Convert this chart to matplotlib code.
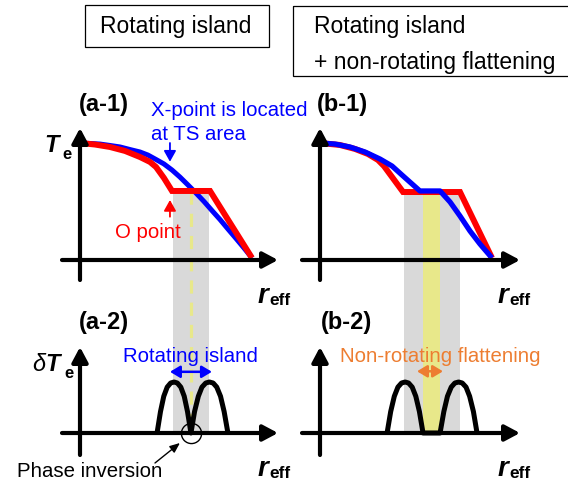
import matplotlib
matplotlib.use("Agg")
import matplotlib.pyplot as plt
from matplotlib.patches import Rectangle

plt.rcParams['font.family'] = ['Liberation Sans', 'DejaVu Sans']
plt.rcParams['lines.scale_dashes'] = False

# ---------------- data (schematic units: r normalised, Te normalised) -------------
# (a-1) rotating island
a1_blue_r = [0.0, 0.058, 0.116, 0.174, 0.233, 0.291, 0.349, 0.395, 0.442, 0.488, 0.535,
             0.581, 0.628, 0.674, 0.721, 0.767, 0.814, 0.860, 0.907, 0.953, 1.0]
a1_blue_T = [1.0, 0.996, 0.991, 0.979, 0.966, 0.944, 0.923, 0.897, 0.859, 0.821, 0.769,
             0.709, 0.641, 0.573, 0.500, 0.423, 0.346, 0.265, 0.184, 0.103, 0.017]
a1_red_r = [0.0, 0.087, 0.174, 0.262, 0.349, 0.407, 0.442, 0.488, 0.535, 0.756, 1.0]
a1_red_T = [1.0, 0.987, 0.966, 0.932, 0.880, 0.838, 0.795, 0.701, 0.590, 0.590, 0.017]
a_band = (0.541, 0.750)          # grey island region
a_xpoint = 0.645                 # yellow dashed line / phase inversion position

# (b-1) rotating island + non-rotating flattening
b1_red_r = [0.0, 0.116, 0.204, 0.279, 0.337, 0.372, 0.483, 0.814, 1.0]
b1_red_T = [1.0, 0.983, 0.949, 0.906, 0.855, 0.803, 0.581, 0.581, 0.017]
b1_blue_r = [0.0, 0.087, 0.174, 0.262, 0.349, 0.419, 0.477, 0.529, 0.581, 0.698,
             0.756, 0.814, 0.872, 0.930, 1.0]
b1_blue_T = [1.0, 0.991, 0.966, 0.923, 0.863, 0.803, 0.726, 0.658, 0.590, 0.590,
             0.496, 0.376, 0.248, 0.137, 0.017]
b_band = (0.488, 0.814)
b_flat = (0.599, 0.698)          # yellow non-rotating flattening region

# (a-2) / (b-2) fluctuation amplitude profiles
a2_r = [0.448, 0.468, 0.487, 0.507, 0.527, 0.547, 0.566, 0.586, 0.606, 0.625, 0.645,
        0.666, 0.688, 0.709, 0.731, 0.752, 0.774, 0.795, 0.817, 0.838, 0.860]
a2_dT = [0.0, 0.42, 0.72, 0.90, 0.98, 1.0, 0.98, 0.90, 0.72, 0.42, 0.0,
         0.42, 0.72, 0.90, 0.98, 1.0, 0.98, 0.90, 0.72, 0.42, 0.0]
b2_r = [0.390, 0.411, 0.432, 0.453, 0.474, 0.495, 0.515, 0.536, 0.557, 0.578, 0.599,
        0.698, 0.720, 0.741, 0.763, 0.784, 0.806, 0.827, 0.849, 0.870, 0.892, 0.913]
b2_dT = [0.0, 0.42, 0.72, 0.90, 0.98, 1.0, 0.98, 0.90, 0.72, 0.42, 0.0,
         0.0, 0.42, 0.72, 0.90, 0.98, 1.0, 0.98, 0.90, 0.72, 0.42, 0.0]

RED = '#ff0000'
BLUE = '#0000ff'
ORANGE = '#ed7d31'
GREY = '#d9d9d9'
YELLOW = '#e8e88a'

W, H = 568, 484
fig = plt.figure(figsize=(W / 100, H / 100), dpi=100)


def panel(ox, oy, xl, xr, yt, yb, sx, sy):
    ax = fig.add_axes([xl / W, (H - yb) / H, (xr - xl) / W, (yb - yt) / H])
    ax.set_xlim((xl - ox) / sx, (xr - ox) / sx)
    ax.set_ylim((oy - yb) / sy, (oy - yt) / sy)
    ax.axis('off')
    ax.patch.set_alpha(0)
    return ax


def draw_axes_arrows(ax):
    x0, x1 = ax.get_xlim()
    y0, y1 = ax.get_ylim()
    ap = dict(arrowstyle='-|>,head_length=0.45,head_width=0.24', lw=3, color='k',
              mutation_scale=20, shrinkA=0, shrinkB=0)
    ax.annotate('', xy=(x1, 0), xytext=(x0, 0), arrowprops=ap, zorder=5)
    ax.annotate('', xy=(0, y1), xytext=(0, y0), arrowprops=ap, zorder=5)


ax_a1 = panel(80, 260, 62, 278, 128, 280, 172, 117)
ax_b1 = panel(320, 260, 302, 520, 128, 280, 172, 117)
ax_a2 = panel(80, 433, 62, 278, 347, 455, 172, 51)
ax_b2 = panel(320, 433, 302, 520, 347, 455, 172, 51)


def bottom_in_top(ax_top, ax_bot):
    p = ax_bot.transData.transform((0, 0))
    return ax_top.transData.inverted().transform(p)[1]


# ---- (a-1)
ybot = bottom_in_top(ax_a1, ax_a2)
plat_a = a1_red_T[8]
ax_a1.add_patch(Rectangle((a_band[0], ybot), a_band[1] - a_band[0], plat_a - ybot,
                          facecolor=GREY, edgecolor='none', clip_on=False, zorder=1))
ax_a1.plot([a_xpoint, a_xpoint], [plat_a, ybot], color=YELLOW, lw=2.3,
           dashes=(9.5, 6.5), clip_on=False, zorder=1.5)
ax_a1.plot(a1_blue_r, a1_blue_T, color=BLUE, lw=3.6, zorder=3, solid_capstyle='butt')
ax_a1.plot(a1_red_r, a1_red_T, color=RED, lw=4.3, zorder=3.5, solid_capstyle='butt',
           solid_joinstyle='miter')
draw_axes_arrows(ax_a1)
ax_a1.annotate('', xy=(0.523, 0.84), xytext=(0.523, 1.0),
               arrowprops=dict(arrowstyle='-|>,head_length=0.5,head_width=0.28',
                               color=BLUE, lw=1.3, mutation_scale=13, shrinkA=0, shrinkB=0))
ax_a1.annotate('', xy=(0.523, 0.513), xytext=(0.523, 0.37),
               arrowprops=dict(arrowstyle='-|>,head_length=0.5,head_width=0.28',
                               color=RED, lw=1.3, mutation_scale=13, shrinkA=0, shrinkB=0))

# ---- (b-1)
ybot_b = bottom_in_top(ax_b1, ax_b2)
plat_b = b1_red_T[6]
ax_b1.add_patch(Rectangle((b_band[0], ybot_b), b_band[1] - b_band[0], plat_b - ybot_b,
                          facecolor=GREY, edgecolor='none', clip_on=False, zorder=1))
ax_b1.add_patch(Rectangle((b_flat[0], ybot_b), b_flat[1] - b_flat[0], plat_b - ybot_b,
                          facecolor=YELLOW, edgecolor='none', clip_on=False, zorder=1.2))
ax_b1.plot(b1_red_r, b1_red_T, color=RED, lw=4.3, zorder=3, solid_capstyle='butt',
           solid_joinstyle='miter')
ax_b1.plot(b1_blue_r, b1_blue_T, color=BLUE, lw=3.8, zorder=3.5, solid_capstyle='butt')
draw_axes_arrows(ax_b1)

# ---- (a-2)
ax_a2.plot(a2_r, a2_dT, color='k', lw=3.6, zorder=3, solid_capstyle='butt')
draw_axes_arrows(ax_a2)
ax_a2.plot([a_xpoint], [0], marker='o', ms=14.5, mfc='none', mec='k', mew=1.0, zorder=6,
           clip_on=False)
ax_a2.annotate('', xy=(0.523, 1.2), xytext=(0.767, 1.2),
               arrowprops=dict(arrowstyle='<|-|>,head_length=0.5,head_width=0.3',
                               color=BLUE, lw=1.8, mutation_scale=12, shrinkA=0, shrinkB=0))
ax_a2.annotate('', xy=(0.581, -0.196), xytext=(0.436, -0.588), annotation_clip=False,
               arrowprops=dict(arrowstyle='-|>,head_length=0.6,head_width=0.25',
                               color='k', lw=1.0, mutation_scale=10, shrinkA=0, shrinkB=0))

# ---- (b-2)
ax_b2.plot(b2_r, b2_dT, color='k', lw=3.6, zorder=3, solid_capstyle='butt')
draw_axes_arrows(ax_b2)
ax_b2.annotate('', xy=(0.564, 1.21), xytext=(0.715, 1.21),
               arrowprops=dict(arrowstyle='<|-|>,head_length=0.5,head_width=0.3',
                               color=ORANGE, lw=1.8, mutation_scale=12, shrinkA=0, shrinkB=0))

# ---------------- text overlay (pixel layout) -------------
ov = fig.add_axes([0, 0, 1, 1])
ov.set_xlim(0, W)
ov.set_ylim(H, 0)
ov.axis('off')
ov.patch.set_alpha(0)

ov.add_patch(Rectangle((85, 5), 184, 42, fill=False, lw=0.9, ec='k'))
ov.add_patch(Rectangle((293, 6), 290, 70, fill=False, lw=0.9, ec='k', clip_on=True))
ov.text(176, 27, 'Rotating island', fontsize=16.5, ha='center', va='center')
ov.text(314, 27, 'Rotating island', fontsize=16.5, ha='left', va='center')
ov.text(314, 62, '+ non-rotating flattening', fontsize=16.5, ha='left', va='center')

lab = dict(fontsize=17, fontweight='bold', va='center', ha='left')
ov.text(79, 105, '(a-1)', **lab)
ov.text(317, 105, '(b-1)', **lab)
ov.text(79, 323, '(a-2)', **lab)
ov.text(321, 323, '(b-2)', **lab)

ann = dict(fontsize=14.7, va='baseline')
ov.text(151, 116, 'X-point is located', color=BLUE, ha='left', **ann)
ov.text(151, 140, 'at TS area', color=BLUE, ha='left', **ann)
ov.text(115, 238, 'O point', color=RED, ha='left', **ann)
ov.text(190, 362, 'Rotating island', color=BLUE, ha='center', **ann)
ov.text(440, 362, 'Non-rotating flattening', color=ORANGE, ha='center', **ann)
ov.text(17, 477, 'Phase inversion', color='k', ha='left', **ann)

# axis labels
ov.text(44, 152, 'T', fontsize=17, fontweight='bold', fontstyle='italic', va='baseline')
ov.text(62, 159, 'e', fontsize=12, fontweight='bold', va='baseline')
ov.text(32, 371, 'δ', fontsize=17, fontstyle='italic', va='baseline')
ov.text(45, 371, 'T', fontsize=17, fontweight='bold', fontstyle='italic', va='baseline')
ov.text(64, 378, 'e', fontsize=12, fontweight='bold', va='baseline')
for (rx, ry) in [(258, 303), (498, 303), (258, 476), (498, 476)]:
    ov.text(rx, ry, 'r', fontsize=20, fontweight='bold', fontstyle='italic', va='baseline')
    ov.text(rx + 11, ry + 2, 'eff', fontsize=12.5, fontweight='bold', va='baseline')

fig.savefig('out.png', dpi=100)
